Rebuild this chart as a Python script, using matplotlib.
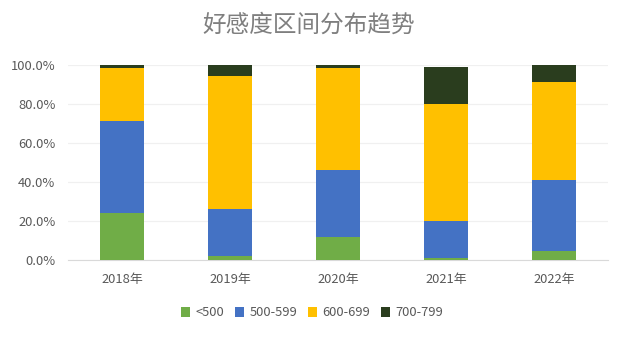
import matplotlib
matplotlib.use("Agg")
import matplotlib.pyplot as plt
import numpy as np
from matplotlib.ticker import PercentFormatter

plt.rcParams['font.family'] = ['Noto Sans CJK SC', 'DejaVu Sans']

# share of each score band per year (%)
years = ['2018年', '2019年', '2020年', '2021年', '2022年']
below_500 = [24.0, 2.0, 11.8, 1.0, 4.6]
band_500_599 = [47.1, 24.1, 34.2, 19.0, 36.4]
band_600_699 = [27.1, 68.0, 52.2, 59.8, 50.0]
band_700_799 = [1.8, 5.9, 1.8, 18.9, 9.0]

series = [
    ('<500', below_500, '#70AD47'),
    ('500-599', band_500_599, '#4472C4'),
    ('600-699', band_600_699, '#FFC000'),
    ('700-799', band_700_799, '#2A3D1E'),
]

fig = plt.figure(figsize=(6.27, 3.39), dpi=100)
ax = fig.add_axes([68 / 627, 1 - 260 / 339, 540 / 627, 195.5 / 339])

x = np.arange(len(years))
bottom = np.zeros(len(years))
for name, vals, color in series:
    ax.bar(x, vals, width=0.41, bottom=bottom, color=color, label=name, zorder=3)
    bottom += np.array(vals)

ax.set_xlim(-0.5, len(years) - 0.5)
ax.set_ylim(0, 100)
ax.set_yticks(np.arange(0, 101, 20))
ax.yaxis.set_major_formatter(PercentFormatter(decimals=1))
ax.set_xticks(x)
ax.set_xticklabels(years)
ax.grid(axis='y', color='#F0F0F0', linewidth=0.9, zorder=0)
for side in ['top', 'right', 'left']:
    ax.spines[side].set_visible(False)
ax.spines['bottom'].set_color('#D9D9D9')
ax.tick_params(axis='both', length=0, colors='#595959', labelsize=9.3)
ax.tick_params(axis='y', pad=9)
ax.tick_params(axis='x', pad=9)

fig.text(0.493, 1 - 25 / 339, '好感度区间分布趋势', ha='center', va='center',
         fontsize=17, color='#7F7F7F')

fig.legend(loc='center', bbox_to_anchor=(312 / 627, 1 - 313 / 339), ncol=4,
           frameon=False, fontsize=9.3, handlelength=0.75, handleheight=0.75,
           handletextpad=0.4, columnspacing=0.8, labelcolor='#595959')

fig.savefig('out.png', dpi=100, facecolor='white')
